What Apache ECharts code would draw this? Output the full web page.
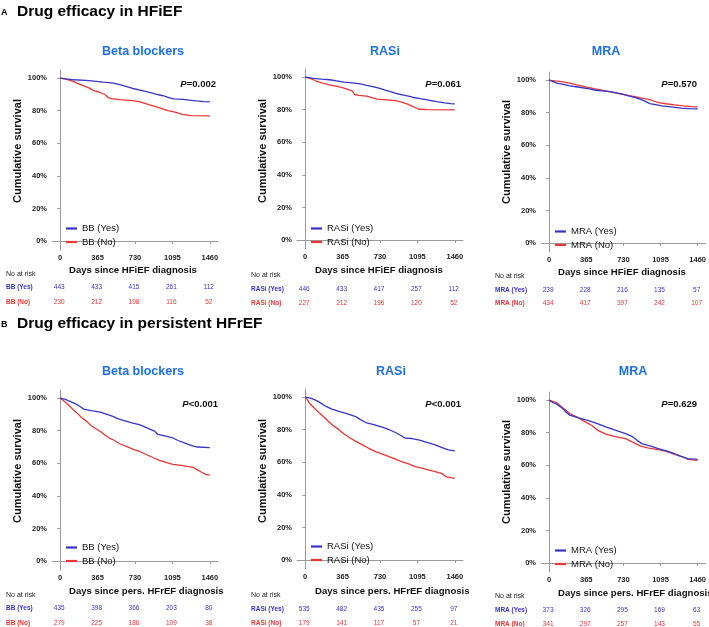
<!DOCTYPE html>
<html>
<head>
<meta charset="utf-8">
<script src="https://cdn.jsdelivr.net/npm/echarts@6/dist/echarts.min.js"></script>
<style>html,body{margin:0;padding:0;background:#fff}#c{width:709px;height:627px}</style>
</head>
<body>
<div id="c"></div>
<script>
// ---------- DATA ----------
const tickDays = [0, 365, 730, 1095, 1460];
const yTicks = [0, 20, 40, 60, 80, 100];

const panelTitles = ['Beta blockers', 'RASi', 'MRA', 'Beta blockers', 'RASi', 'MRA'];
const pValues = ['=0.002', '=0.061', '=0.570', '<0.001', '<0.001', '=0.629'];
const xNames = ['Days since HFiEF diagnosis', 'Days since HFiEF diagnosis', 'Days since HFiEF diagnosis',
  'Days since pers. HFrEF diagnosis', 'Days since pers. HFrEF diagnosis', 'Days since pers. HFrEF diagnosis'];
const yesNames = ['BB (Yes)', 'RASi (Yes)', 'MRA (Yes)', 'BB (Yes)', 'RASi (Yes)', 'MRA (Yes)'];
const noNames = ['BB (No)', 'RASi (No)', 'MRA (No)', 'BB (No)', 'RASi (No)', 'MRA (No)'];

// Kaplan-Meier curves [day, survival %]
const bbHfiefYes = [[0,100],[60,99.5],[130,99],[250,98.6],[330,98.2],[420,97.6],[520,97],[580,96],[640,95],[700,93.8],[770,92.8],[840,91.7],[900,90.8],[960,89.8],[1020,89],[1060,88],[1110,87.3],[1200,87],[1260,86.5],[1330,86],[1400,85.6],[1460,85.4]];
const bbHfiefNo = [[0,100],[40,99.5],[90,98.8],[130,97.8],[170,96.8],[230,95.3],[280,94],[330,92.2],[380,91.5],[440,89.8],[470,88],[500,87.4],[580,86.8],[680,86.4],[760,85.8],[820,84.6],[880,83.4],[940,82.4],[1000,81.2],[1050,80],[1100,79.4],[1150,78.6],[1190,77.8],[1280,77],[1460,76.8]];
const rasHfiefYes = [[0,100],[80,99.3],[160,98.8],[240,98.4],[320,97.6],[380,96.9],[460,96.5],[540,95.9],[600,95],[660,94.2],[720,93.2],[780,92],[840,91],[900,89.8],[960,89],[1020,88.2],[1060,87.5],[1120,86.8],[1180,86.2],[1240,85.5],[1300,84.8],[1360,84.2],[1420,83.8],[1460,83.6]];
const rasHfiefNo = [[0,100],[60,99],[110,97.5],[170,96.4],[235,95.3],[300,94.5],[364,93.6],[420,92.4],[460,91.5],[480,89.5],[520,88.8],[600,88.3],[660,87.2],[700,86.5],[800,86],[880,85.6],[940,84.6],[1000,83.4],[1040,82.2],[1080,81.2],[1110,80.3],[1200,80],[1460,79.9]];
const mraHfiefYes = [[0,100],[30,99.4],[74,98.2],[140,97.4],[203,96.5],[280,95.8],[396,94.7],[460,93.8],[525,93.4],[600,92.9],[654,92.4],[720,91.4],[780,90.4],[848,89.3],[900,88.2],[950,86.8],[990,85.6],[1060,84.8],[1105,84.2],[1200,83.6],[1299,82.8],[1380,82.5],[1460,82.4]];
const mraHfiefNo = [[0,100],[50,99.6],[100,99.2],[150,98.8],[203,98.2],[280,97],[360,95.9],[440,94.8],[520,93.8],[590,93],[660,92],[751,91],[830,90],[912,88.9],[980,88.2],[1030,87.2],[1073,86.2],[1150,85.5],[1234,84.8],[1320,84.2],[1400,83.8],[1460,83.6]];
const bbHfrefYes = [[0,100],[50,99.2],[100,97.9],[150,96.5],[190,95],[230,93.2],[300,92.4],[392,91.4],[450,90.2],[521,88.7],[560,87.4],[600,86.6],[700,84.8],[780,83.6],[830,82.2],[880,80.8],[920,79.8],[950,77.8],[1000,77.2],[1060,76.2],[1104,75.4],[1150,74],[1200,72.8],[1250,71.6],[1300,70.6],[1340,70],[1460,69.6]];
const bbHfrefNo = [[0,100],[30,98.5],[68,96.5],[110,94],[165,90.8],[210,88],[262,85.6],[300,83.2],[340,81.5],[392,79.5],[440,77.2],[480,75.5],[521,74.3],[580,72],[651,70.2],[720,68.4],[780,67.1],[840,65.4],[909,63.4],[970,61.8],[1039,60.4],[1100,59.4],[1168,58.9],[1250,58],[1298,57.5],[1340,56],[1380,54.5],[1420,53.2],[1460,52.8]];
const rasHfrefYes = [[0,100],[60,99.2],[106,98],[150,96.5],[203,94.3],[260,92.6],[332,91.2],[420,89.6],[493,88.1],[540,86.2],[590,84.4],[670,83.2],[751,81.6],[820,80],[880,78.3],[930,76.6],[976,74.8],[1040,74.6],[1106,73.8],[1180,72.4],[1267,70.7],[1330,69.2],[1396,67.6],[1460,67]];
const rasHfrefNo = [[0,100],[20,98.5],[42,96.3],[90,93.2],[139,90.2],[190,87.4],[235,84.6],[280,82.2],[332,79.9],[380,77.4],[429,75.2],[490,73],[558,70.7],[620,68.6],[687,66.6],[780,64.4],[880,61.9],[940,60.4],[1009,59],[1070,57.4],[1138,56.4],[1200,55.3],[1267,54.3],[1330,53.2],[1380,51],[1460,50.2]];
const mraHfrefYes = [[0,100],[40,98.4],[74,97.5],[130,95],[170,92.4],[203,90.8],[280,89.2],[396,87.3],[480,85.4],[557,83.6],[650,81.6],[751,79.5],[820,77.6],[870,75],[912,73.3],[1000,71.8],[1073,70.2],[1150,68.8],[1234,67.1],[1300,65.5],[1363,64.1],[1460,63.7]];
const mraHfrefNo = [[0,100],[50,99],[74,98.4],[130,95.5],[203,91.8],[280,89.4],[360,86.5],[420,84.4],[480,81.4],[557,79.1],[640,77.8],[751,76.4],[820,74.2],[900,71.8],[980,70.6],[1073,69.6],[1150,68.6],[1234,66.7],[1300,65.4],[1363,63.7],[1460,63.0]];

// Numbers at risk
const riskYes = [
  [443, 433, 415, 261, 112],
  [446, 433, 417, 257, 112],
  [239, 228, 216, 135, 57],
  [435, 398, 366, 203, 80],
  [535, 482, 435, 255, 97],
  [373, 326, 295, 169, 63]
];
const riskNo = [
  [230, 212, 198, 116, 52],
  [227, 212, 196, 120, 52],
  [434, 417, 397, 242, 107],
  [279, 225, 186, 109, 38],
  [179, 141, 117, 57, 21],
  [341, 297, 257, 143, 55]
];
const curvesYes = [bbHfiefYes, rasHfiefYes, mraHfiefYes, bbHfrefYes, rasHfrefYes, mraHfrefYes];
const curvesNo = [bbHfiefNo, rasHfiefNo, mraHfiefNo, bbHfrefNo, rasHfrefNo, mraHfrefNo];

// ---------- LAYOUT ----------
const FONT = 'Liberation Sans, Arial, sans-serif';
const BLUE = '#3535c8';
const RED = '#ee3535';
const TITLE_BLUE = '#1f6fe6';
const grids = [
  {left: 52, top: 70}, {left: 297, top: 69}, {left: 541, top: 72},
  {left: 52, top: 390}, {left: 297, top: 389}, {left: 541, top: 392}
];
const GW = 166, GH = 180;
const titlePos = [[143, 52], [385, 52], [606, 52], [143, 372], [391, 372], [633, 372]];
const pPos = [[216, 84], [461, 84], [697, 84], [218, 404], [461, 404], [697, 404]];
const yNamePos = [[18, 151], [263, 151], [507, 152], [18, 471], [263, 471], [507, 472]];
const xNamePos = [[69, 270], [315, 270], [558, 272], [69, 591], [315, 591], [558, 593]];
const riskRowY = [[274, 287.5, 302], [275, 289, 303], [276, 290, 303], [595, 608, 623], [595, 609, 623], [596, 610, 624]];
const riskLabelX = [6, 251, 495, 6, 251, 495];
const legendTop = [218, 218, 221, 537, 536, 540];

const chart = echarts.init(document.getElementById('c'), null, {renderer: 'canvas'});

const axisLineStyle = {color: '#9a9a9a', width: 1};
const option = {
  backgroundColor: '#fff',
  animation: false,
  grid: grids.map(g => ({left: g.left, top: g.top, width: GW, height: GH, containLabel: false})),
  xAxis: grids.map((g, i) => ({
    type: 'value', gridIndex: i, min: -80, max: 1540,
    axisLine: {show: true, lineStyle: axisLineStyle},
    axisTick: {show: true, length: 3, lineStyle: axisLineStyle, customValues: tickDays},
    axisLabel: {customValues: tickDays, formatter: v => String(v), fontSize: 7.5, fontWeight: 'bold', color: '#222', fontFamily: FONT, margin: 4},
    splitLine: {show: false}
  })),
  yAxis: grids.map((g, i) => ({
    type: 'value', gridIndex: i, min: -5.5, max: 105,
    axisLine: {show: true, lineStyle: axisLineStyle},
    axisTick: {show: true, length: 3, lineStyle: axisLineStyle, customValues: yTicks},
    axisLabel: {customValues: yTicks, formatter: v => v + '%', fontSize: 7.5, fontWeight: 'bold', color: '#222', fontFamily: FONT, margin: 5},
    splitLine: {show: false}
  })),
  legend: grids.map((g, i) => ({
    data: [yesNames[i], noNames[i]],
    orient: 'vertical', left: g.left + 9, top: legendTop[i],
    icon: 'rect', itemWidth: 11, itemHeight: 2.2, itemGap: 2.5,
    selectedMode: false,
    textStyle: {fontSize: 9.5, color: '#111', fontFamily: FONT, lineHeight: 11, padding: [0, 0, 0, 0]}
  })),
  series: []
};
grids.forEach((g, i) => {
  option.series.push({
    type: 'line', name: yesNames[i], xAxisIndex: i, yAxisIndex: i, data: curvesYes[i],
    symbol: 'none', showSymbol: false, color: BLUE,
    lineStyle: {color: BLUE, width: 1.3}, z: 3
  });
  option.series.push({
    type: 'line', name: noNames[i], xAxisIndex: i, yAxisIndex: i, data: curvesNo[i],
    symbol: 'none', showSymbol: false, color: RED,
    lineStyle: {color: RED, width: 1.3}, z: 2
  });
});
chart.setOption(option);

// ---------- TEXT ----------
const graphics = [];
function txt(x, y, text, style, extra) {
  graphics.push(Object.assign({type: 'text', x: x, y: y, silent: true,
    style: Object.assign({text: text, fontFamily: FONT, verticalAlign: 'middle'}, style)}, extra || {}));
}
// section headers
txt(1, 13, 'A', {fontSize: 9, fontWeight: 'bold', fill: '#000'});
txt(17, 12, 'Drug efficacy in HFiEF', {fontSize: 15.5, fontWeight: 'bold', fill: '#000'});
txt(1, 325, 'B', {fontSize: 9, fontWeight: 'bold', fill: '#000'});
txt(17, 324, 'Drug efficacy in persistent HFrEF', {fontSize: 15.5, fontWeight: 'bold', fill: '#000'});

grids.forEach((g, i) => {
  txt(titlePos[i][0], titlePos[i][1], panelTitles[i], {fontSize: 12.5, fontWeight: 'bold', fill: TITLE_BLUE, align: 'center'});
  graphics.push({type: 'text', x: pPos[i][0], y: pPos[i][1], silent: true, style: {
    text: '{i|P}{b|' + pValues[i] + '}', align: 'right', verticalAlign: 'middle',
    rich: {
      i: {fontSize: 9.5, fontWeight: 'bold', fontStyle: 'italic', fontFamily: FONT, fill: '#111'},
      b: {fontSize: 9.5, fontWeight: 'bold', fontFamily: FONT, fill: '#111'}
    }}});
  txt(yNamePos[i][0], yNamePos[i][1], 'Cumulative survival', {fontSize: 11, fontWeight: 'bold', fill: '#111', align: 'center'},
    {rotation: Math.PI / 2});
  txt(xNamePos[i][0], xNamePos[i][1], xNames[i], {fontSize: 9.6, fontWeight: 'bold', fill: '#111', align: 'left'});
  // risk table
  const ry = riskRowY[i];
  txt(riskLabelX[i], ry[0], 'No at risk', {fontSize: 7, fill: '#222'});
  txt(riskLabelX[i], ry[1], yesNames[i], {fontSize: 6.5, fontWeight: 'bold', fill: BLUE});
  txt(riskLabelX[i], ry[2], noNames[i], {fontSize: 6.5, fontWeight: 'bold', fill: RED});
  tickDays.forEach((d, k) => {
    const px = chart.convertToPixel({xAxisIndex: i}, d);
    txt(px - 1, ry[1], String(riskYes[i][k]), {fontSize: 6.5, fill: BLUE, align: 'center'});
    txt(px - 1, ry[2], String(riskNo[i][k]), {fontSize: 6.5, fill: RED, align: 'center'});
  });
});
chart.setOption({graphic: graphics});
</script>
</body>
</html>
